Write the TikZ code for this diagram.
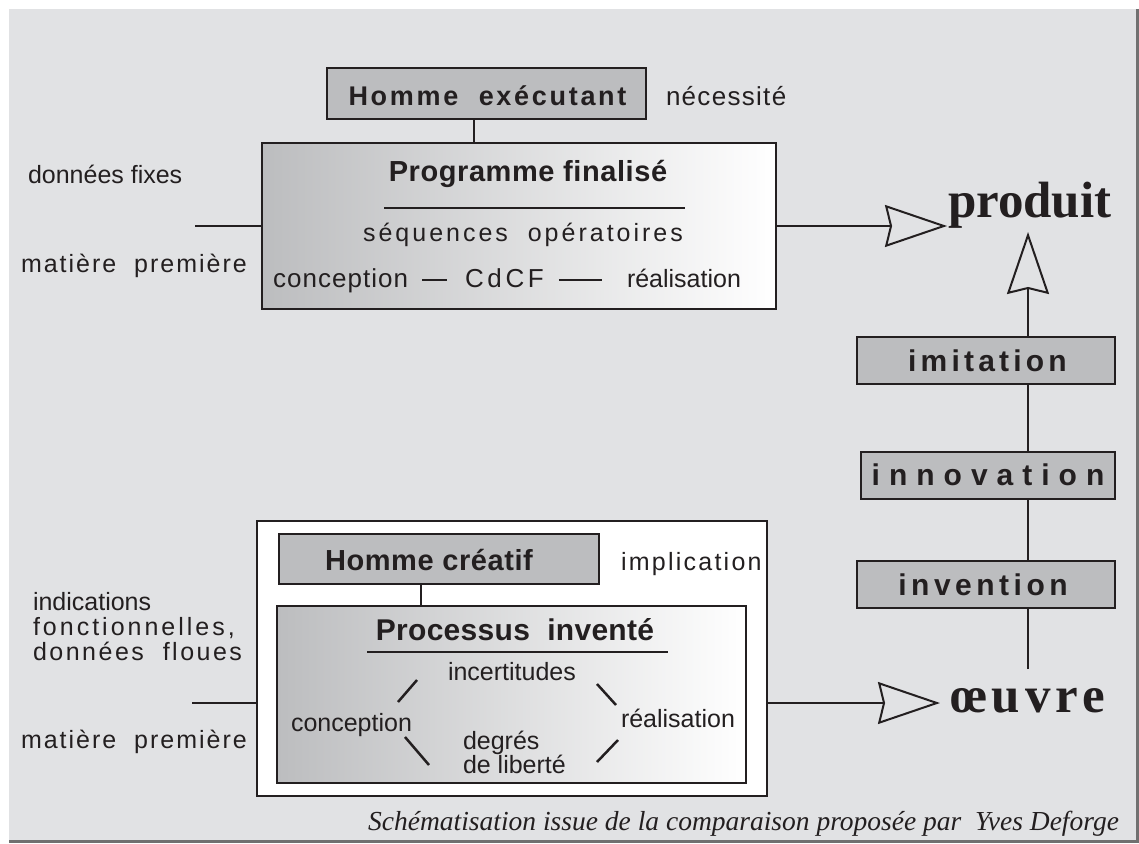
\documentclass[tikz,border=0pt]{standalone}
\usepackage{fontspec}
\setmainfont{Liberation Sans}
\newfontfamily\romanfont{Liberation Serif}
\usetikzlibrary{arrows.meta}
\definecolor{panelgray}{HTML}{E1E2E4}
\definecolor{boxgray}{HTML}{BCBDBF}
\definecolor{framegray}{HTML}{707070}
\definecolor{inkblack}{HTML}{231F20}
\newcommand{\track}[1]{\addfontfeature{LetterSpace=#1}}

\begin{document}
\begin{tikzpicture}
[x=1pt, y=-1pt, color=inkblack, line width=2pt,
graybox/.style={rectangle, draw, line width=2.5pt, fill=boxgray, inner sep=0pt},
shadebox/.style={rectangle, draw, line width=2.5pt, left color=boxgray, right color=white, inner sep=0pt},
whitebox/.style={rectangle, draw, line width=2.5pt, fill=white, inner sep=0pt},
txt/.style={inner sep=0pt, anchor=base west, font=\fontsize{25}{25}\selectfont},
head/.style={inner sep=0pt, anchor=base, font=\fontsize{29}{29}\selectfont\bfseries},
big/.style={inner sep=0pt, anchor=base west, font=\romanfont\bfseries\fontsize{51}{51}\selectfont},
link/.style={line width=2pt},
stroke/.style={line width=2.5pt},
bigarrow/.style={line width=2pt, -{Stealth[open, length=62pt, width=42pt, inset=5pt]}}]

\useasboundingbox (0,0) rectangle (1139,843);
\fill[white] (0,0) rectangle (1139,843);
\fill[panelgray] (9,9) rectangle (1137,841);
\draw[framegray, line width=3pt] (1137,9) -- (1137,841) -- (9,841);

\node[graybox, minimum width=319pt, minimum height=51pt] (exec) at (486.5,93.5) {};
\node[shadebox, minimum width=514pt, minimum height=166pt] (prog) at (519,226) {};
\node[whitebox, minimum width=510pt, minimum height=275pt] (outer) at (512,658.5) {};
\node[graybox, minimum width=320pt, minimum height=50pt] (crea) at (439,559) {};
\node[shadebox, minimum width=469pt, minimum height=177pt] (proc) at (511.5,694.5) {};
\node[graybox, minimum width=258pt, minimum height=47pt] (imit) at (986,360.5) {};
\node[graybox, minimum width=254pt, minimum height=47pt] (innov) at (988,475.5) {};
\node[graybox, minimum width=258pt, minimum height=47pt] (inv) at (986,584.5) {};

\node[txt] (fixes) at (27,183) {données fixes};
\node[txt] (mp1) at (20,272) {\track{8}matière \ première};
\node[head, font=\fontsize{27}{27}\selectfont\bfseries\track{10}] (exectxt) at (487.5,105) {Homme \ exécutant};
\node[txt, font=\fontsize{26}{26}\selectfont\track{5}] (necess) at (665,105) {nécessité};
\node[head, font=\fontsize{29}{29}\selectfont\bfseries\track{2}] (progtxt) at (528,181) {Programme finalisé};
\node[head, font=\fontsize{25}{25}\selectfont\track{12}] (seq) at (523,241) {séquences \ opératoires};
\node[txt, font=\fontsize{26}{26}\selectfont\track{4}] (concA) at (272,287) {conception};
\node[txt, font=\fontsize{26}{26}\selectfont\track{14}] (cdcf) at (464,287) {CdCF};
\node[txt] (realA) at (626,287) {réalisation};

\node[head, font=\fontsize{29}{29}\selectfont\bfseries\track{2}] (creatxt) at (429,570) {Homme créatif};
\node[txt, font=\fontsize{25}{25}\selectfont\track{9}] (impl) at (620,570) {implication};
\node[head, font=\fontsize{30}{30}\selectfont\bfseries\track{1}] (proctxt) at (515,640) {Processus \ inventé};
\node[txt] (incert) at (447,680) {incertitudes};
\node[txt] (concB) at (290,731) {conception};
\node[txt] (realB) at (620,727) {réalisation};
\node[txt] (degres) at (462,749) {degrés};
\node[txt] (liberte) at (462,773) {de liberté};

\node[txt] (indic) at (32,610) {indications};
\node[txt, font=\fontsize{25}{25}\selectfont\track{12}] (fonct) at (32,635) {fonctionnelles,};
\node[txt, font=\fontsize{25}{25}\selectfont\track{10}] (floues) at (32,660) {données \ floues};
\node[txt] (mp2) at (20,748) {\track{8}matière \ première};

\node[head, font=\fontsize{30}{30}\selectfont\bfseries\track{14}] (imittxt) at (987.5,371) {imitation};
\node[head, font=\fontsize{30}{30}\selectfont\bfseries\track{30}] (innovtxt) at (988,485) {innovation};
\node[head, font=\fontsize{30}{30}\selectfont\bfseries\track{15}] (invtxt) at (983,595) {invention};

\node[big] (produit) at (947,217) {produit};
\node[big, font=\romanfont\bfseries\fontsize{51}{51}\selectfont\track{10}] (oeuvre) at (949,712) {œuvre};
\node[inner sep=0pt, anchor=base east, font=\romanfont\itshape\fontsize{27.5}{27.5}\selectfont] (credit) at (1120,830) {Schématisation issue de la comparaison proposée par \ Yves Deforge};

\coordinate (in1) at (195,226);
\coordinate (in2) at (192,703);
\coordinate (out2) at (940,703);
\coordinate (ptip) at (1028,232);
\coordinate (otop) at (1028,669);
\coordinate (xexec) at (474,0);
\coordinate (xcrea) at (421,0);

\draw[link] (in1) -- (prog.west);
\draw[link] (exec.south -| xexec) -- (prog.north -| xexec);
\draw[bigarrow] (prog.east) -- (prog.east -| produit.west);
\draw[link] (in2) -- (in2 -| outer.west);
\draw[link] (crea.south -| xcrea) -- (proc.north -| xcrea);
\draw[bigarrow] (in2 -| outer.east) -- (out2);

\draw[link] (otop) -- (otop |- inv.south);
\draw[link] (inv.north -| otop) -- (innov.south -| otop);
\draw[link] (innov.north -| otop) -- (imit.south -| otop);
\draw[bigarrow] (imit.north -| otop) -- (ptip);

\draw[stroke] (384,208) -- (685,208);
\draw[stroke] (367,652) -- (668,652);
\draw[stroke] ([xshift=13pt, yshift=7pt]concA.base east) -- ([xshift=-17pt, yshift=7pt]cdcf.base west);
\draw[stroke] ([xshift=14pt, yshift=7pt]cdcf.base east) -- ([xshift=-24pt, yshift=7pt]realA.base west);

\draw[stroke] (398,702) -- (417,680);
\draw[stroke] (405,737) -- (429,765);
\draw[stroke] (597,684) -- (616,705);
\draw[stroke] (618,740) -- (597,762);
\end{tikzpicture}
\end{document}
